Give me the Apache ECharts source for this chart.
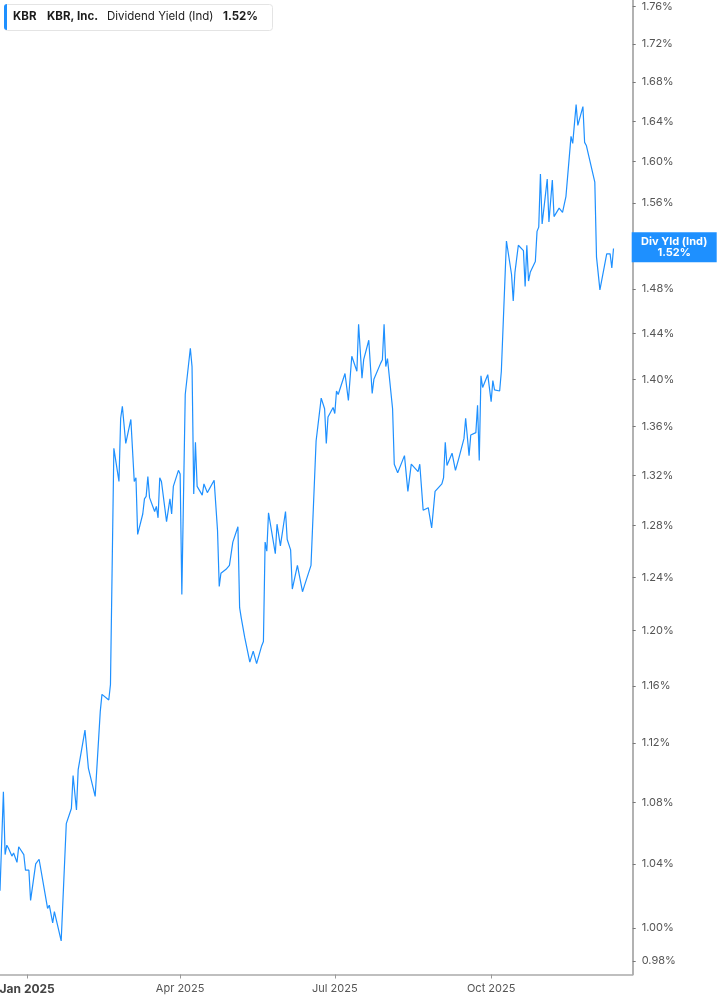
<!DOCTYPE html>
<html>
<head>
<meta charset="utf-8">
<script src="https://cdn.jsdelivr.net/npm/echarts@6/dist/echarts.min.js"></script>
<style>
html,body{margin:0;padding:0;background:#fff;}
#chart{width:717px;height:1005px;}
</style>
</head>
<body>
<div id="chart"></div>
<script>
// ---- data ----
const ticker = 'KBR';
const companyName = 'KBR, Inc.';
const metricName = 'Dividend Yield (Ind)';
const tagName = 'Div Yld (Ind)';

const dates = [
'2024-12-16','2024-12-18','2024-12-19','2024-12-20','2024-12-21','2024-12-23','2024-12-24','2024-12-26','2024-12-27','2024-12-30','2024-12-31',
'2025-01-02','2025-01-03','2025-01-06','2025-01-07','2025-01-08','2025-01-13','2025-01-14','2025-01-16','2025-01-17','2025-01-21','2025-01-24','2025-01-27','2025-01-28','2025-01-29','2025-01-30','2025-01-31',
'2025-02-04','2025-02-06','2025-02-10','2025-02-13','2025-02-14','2025-02-18','2025-02-19','2025-02-21','2025-02-24','2025-02-25','2025-02-26','2025-02-28',
'2025-03-03','2025-03-05','2025-03-06','2025-03-07','2025-03-10','2025-03-11','2025-03-12','2025-03-13','2025-03-14','2025-03-17','2025-03-18','2025-03-19','2025-03-20','2025-03-21','2025-03-24','2025-03-25','2025-03-26','2025-03-27','2025-03-28','2025-03-31',
'2025-04-01','2025-04-02','2025-04-04','2025-04-07','2025-04-08','2025-04-09','2025-04-10','2025-04-11','2025-04-14','2025-04-15','2025-04-17','2025-04-21','2025-04-23','2025-04-24','2025-04-25','2025-04-28','2025-04-30',
'2025-05-02','2025-05-05','2025-05-06','2025-05-07','2025-05-09','2025-05-12','2025-05-14','2025-05-16','2025-05-19','2025-05-20','2025-05-21','2025-05-22','2025-05-23','2025-05-27','2025-05-28','2025-05-29','2025-05-30',
'2025-06-02','2025-06-03','2025-06-04','2025-06-05','2025-06-06','2025-06-09','2025-06-10','2025-06-12','2025-06-13','2025-06-17','2025-06-20','2025-06-23','2025-06-25','2025-06-26','2025-06-27','2025-06-30',
'2025-07-01','2025-07-02','2025-07-03','2025-07-07','2025-07-09','2025-07-11','2025-07-14','2025-07-15','2025-07-17','2025-07-18','2025-07-21','2025-07-23','2025-07-24','2025-07-25','2025-07-28','2025-07-29','2025-07-30','2025-07-31',
'2025-08-01','2025-08-04','2025-08-05','2025-08-06','2025-08-07','2025-08-11','2025-08-13','2025-08-15','2025-08-19','2025-08-20','2025-08-21','2025-08-22','2025-08-25','2025-08-27','2025-08-29',
'2025-09-02','2025-09-03','2025-09-04','2025-09-05','2025-09-08','2025-09-10','2025-09-12','2025-09-15','2025-09-16','2025-09-18','2025-09-19','2025-09-22','2025-09-23','2025-09-24','2025-09-25','2025-09-26','2025-09-29',
'2025-10-01','2025-10-02','2025-10-03','2025-10-06','2025-10-07','2025-10-08','2025-10-10','2025-10-13','2025-10-14','2025-10-15','2025-10-17','2025-10-20','2025-10-21','2025-10-22','2025-10-23','2025-10-24','2025-10-27','2025-10-28','2025-10-29','2025-10-30','2025-10-31',
'2025-11-03','2025-11-04','2025-11-06','2025-11-07','2025-11-10','2025-11-12','2025-11-14','2025-11-17','2025-11-18','2025-11-20','2025-11-21','2025-11-24','2025-11-25','2025-11-26',
'2025-12-01','2025-12-02','2025-12-03','2025-12-04','2025-12-08','2025-12-10','2025-12-11','2025-12-12'
];

const yields = [
1.023,1.087,1.046,1.052,1.050,1.045,1.047,1.041,1.051,1.046,1.036,
1.036,1.017,1.040,1.039,1.043,1.012,1.014,1.003,1.010,0.992,1.066,1.076,1.098,1.099,1.075,1.102,
1.129,1.103,1.084,1.142,1.154,1.150,1.161,1.342,1.315,1.367,1.377,1.346,
1.366,1.315,1.318,1.273,1.289,1.301,1.303,1.319,1.302,1.291,1.295,1.286,1.318,1.315,1.283,1.282,1.301,1.289,1.311,1.324,
1.321,1.227,1.387,1.427,1.411,1.305,1.347,1.311,1.304,1.313,1.306,1.316,1.276,1.233,1.243,1.246,1.249,
1.267,1.279,1.217,1.209,1.195,1.177,1.185,1.176,1.189,1.192,1.267,1.260,1.290,1.258,1.281,1.282,1.264,
1.291,1.269,1.269,1.261,1.231,1.249,1.249,1.229,1.233,1.249,1.348,1.384,1.375,1.346,1.368,1.376,
1.371,1.390,1.387,1.405,1.382,1.420,1.407,1.448,1.401,1.417,1.434,1.388,1.400,1.399,1.414,1.417,1.448,1.411,
1.418,1.375,1.329,1.328,1.322,1.336,1.307,1.329,1.323,1.329,1.329,1.292,1.294,1.278,1.307,
1.313,1.318,1.347,1.328,1.338,1.324,1.334,1.350,1.367,1.336,1.353,1.355,1.378,1.332,1.403,1.393,1.404,
1.381,1.399,1.391,1.390,1.407,1.407,1.524,1.493,1.469,1.495,1.520,1.515,1.482,1.520,1.487,1.495,1.505,1.533,1.537,1.588,1.540,
1.583,1.542,1.582,1.547,1.555,1.551,1.566,1.625,1.618,1.657,1.636,1.655,1.619,1.616,
1.580,1.509,1.508,1.479,1.512,1.512,1.499,1.517
];

const yTicks = [0.98,1.00,1.04,1.08,1.12,1.16,1.20,1.24,1.28,1.32,1.36,1.40,1.44,1.48,1.52,1.56,1.60,1.64,1.68,1.72,1.76];
const xTickDates = ['2025-01-01','2025-04-01','2025-07-01','2025-10-01'];
const monthNames = ['Jan','Feb','Mar','Apr','May','Jun','Jul','Aug','Sep','Oct','Nov','Dec'];

// ---- build ----
function toTime(s){ const p = s.split('-').map(Number); return new Date(p[0], p[1]-1, p[2]).getTime(); }
const seriesData = dates.map((d,i)=>[toTime(d), Math.log(yields[i])]);
const lastYield = yields[yields.length-1];
const lastLabel = lastYield.toFixed(2) + '%';

const BLUE = '#1E90FF';
const FONT = 'Inter, "Noto Sans", sans-serif';

const chart = echarts.init(document.getElementById('chart'), null, {renderer:'canvas'});
chart.setOption({
  animation: false,
  backgroundColor: '#ffffff',
  grid: { left: 0, right: 84.3, top: 0, bottom: 30.5, containLabel: false, outerBoundsMode: 'none' },
  xAxis: {
    type: 'value',
    min: new Date(2024, 11, 16).getTime(),
    max: new Date(2025, 11, 23, 7).getTime(),
    axisLine: { show: true, onZero: false, lineStyle: { color: '#aaaaaa', width: 1.5 } },
    axisTick: { show: true, length: 4, lineStyle: { color: '#999' }, customValues: xTickDates.map(toTime) },
    splitLine: { show: false },
    axisLabel: {
      customValues: xTickDates.map(toTime),
      margin: 9,
      fontSize: 11,
      fontFamily: FONT,
      color: '#555',
      formatter: function (v) {
        const d = new Date(v);
        const t = monthNames[d.getMonth()] + ' ' + d.getFullYear();
        return d.getMonth() === 0 ? '{b|' + t + '}' : t;
      },
      rich: { b: { fontWeight: 'bold', fontSize: 12, color: '#444', fontFamily: FONT } }
    }
  },
  yAxis: {
    type: 'value',
    position: 'right',
    min: Math.log(0.9718),
    max: Math.log(1.7668),
    axisLine: { show: true, onZero: false, lineStyle: { color: '#999', width: 1.5 } },
    axisTick: { show: true, length: 3, lineStyle: { color: '#777' }, customValues: yTicks.map(Math.log) },
    splitLine: { show: false },
    axisLabel: {
      customValues: yTicks.map(Math.log),
      margin: 9,
      fontSize: 11,
      fontFamily: FONT,
      color: '#555',
      formatter: function (v) { return Math.exp(v).toFixed(2) + '%'; }
    }
  },
  series: [{
    type: 'line',
    data: seriesData,
    showSymbol: false,
    symbol: 'none',
    lineStyle: { color: BLUE, width: 1.2 },
    emphasis: { disabled: true },
    silent: true,
    z: 3,
    markLine: {
      silent: true,
      symbol: ['none', 'none'],
      animation: false,
      lineStyle: { width: 0, color: 'rgba(0,0,0,0)', type: 'solid' },
      data: [{ yAxis: Math.log(lastYield) }],
      label: {
        show: true,
        position: 'end',
        distance: -1,
        offset: [0, 4],
        color: '#fff',
        backgroundColor: BLUE,
        padding: [4, 6, 4, 6],
        formatter: '{t|' + tagName + '}\n{t|' + lastLabel + '}',
        rich: { t: { color: '#fff', fontWeight: 'bold', fontSize: 11, lineHeight: 11, width: 73, align: 'center', fontFamily: FONT } }
      }
    }
  }],
  graphic: [
    { type: 'rect', left: 4, top: 4, z: 10, shape: { width: 268, height: 26, r: 3 }, style: { fill: '#fff', stroke: '#e4e4e4', lineWidth: 1 } },
    { type: 'rect', left: 4, top: 4, z: 11, shape: { width: 3, height: 26, r: [3, 0, 0, 3] }, style: { fill: BLUE } },
    { type: 'text', x: 13, y: 17, z: 12, style: { text: ticker, font: 'bold 11.5px ' + FONT, fill: '#1c1c1c', verticalAlign: 'middle' } },
    { type: 'text', x: 47, y: 17, z: 12, style: { text: companyName, font: 'bold 11.5px ' + FONT, fill: '#1c1c1c', verticalAlign: 'middle' } },
    { type: 'text', x: 107, y: 17, z: 12, style: { text: metricName, font: '11.5px ' + FONT, fill: '#222', verticalAlign: 'middle' } },
    { type: 'text', x: 223, y: 17, z: 12, style: { text: lastLabel, font: 'bold 11.5px ' + FONT, fill: '#1c1c1c', verticalAlign: 'middle' } }
  ]
});
</script>
</body>
</html>
